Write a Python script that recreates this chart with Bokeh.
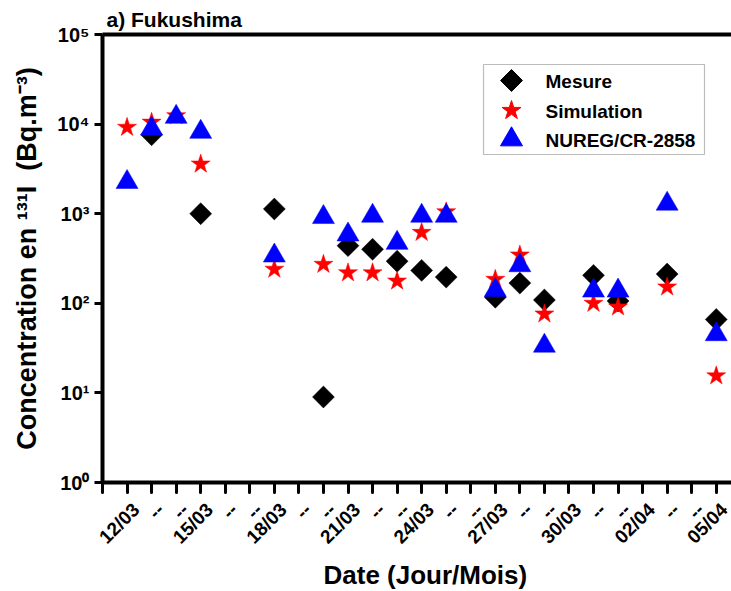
import math
from bokeh.plotting import figure
from bokeh.models import (Range1d, LinearAxis, FixedTicker, CustomJSTickFormatter,
                          Label, BoxAnnotation, ColumnDataSource, Title)
from bokeh.embed import file_html
from bokeh.resources import INLINE

# ---------------- data ----------------
days = ["12/03", "13/03", "14/03", "15/03", "16/03", "17/03", "18/03", "19/03",
        "20/03", "21/03", "22/03", "23/03", "24/03", "25/03", "26/03", "27/03",
        "28/03", "29/03", "30/03", "31/03", "01/04", "02/04", "03/04", "04/04", "05/04"]
tick_labels = ["12/03", "--", "--", "15/03", "--", "--", "18/03", "--", "--",
               "21/03", "--", "--", "24/03", "--", "--", "27/03", "--", "--",
               "30/03", "--", "--", "02/04", "--", "--", "05/04"]

mesure_dates = ["13/03", "15/03", "18/03", "20/03", "21/03", "22/03", "23/03", "24/03",
                "25/03", "27/03", "28/03", "29/03", "31/03", "01/04", "03/04", "05/04"]
mesure_vals = [7600, 1000, 1130, 9, 440, 401, 295, 233,
               196, 117, 168, 109, 205, 106, 212, 66]

sim_dates = ["12/03", "13/03", "14/03", "15/03", "18/03", "20/03", "21/03", "22/03", "23/03",
             "24/03", "25/03", "27/03", "28/03", "29/03", "31/03", "01/04", "03/04", "05/04"]
sim_vals = [9200, 10500, 12400, 3580, 240, 272, 219, 219, 177,
            618, 1050, 185, 346, 76, 100, 91, 152, 15.5]

nureg_dates = ["12/03", "13/03", "14/03", "15/03", "18/03", "20/03", "21/03", "22/03", "23/03",
               "24/03", "25/03", "27/03", "28/03", "29/03", "31/03", "01/04", "03/04", "05/04"]
nureg_vals = [2250, 8890, 12000, 8160, 340, 914, 584, 945, 471,
              945, 945, 140, 265, 33.5, 138, 138, 1288, 45]

series_names = ["Mesure", "Simulation", "NUREG/CR-2858"]
title_text = "a) Fukushima"
x_label = "Date (Jour/Mois)"
y_label = "Concentration en \u00b9\u00b3\u00b9I\u00a0\u00a0(Bq.m\u207b\u00b3)"

# ---------------- layout constants ----------------
FONT = "Liberation Sans"
FL, FT, FW, FH = 102, 34, 629, 448
X0, PX_PER_X = -1.0, 24.55
Y0_DEC, Y1_DEC = 0, 5
PX_PER_DEC = FH / (Y1_DEC - Y0_DEC)
FB = FT + FH
LABEL_SHIFT = 9 / PX_PER_X   # x tick labels sit slightly right of their ticks


def px_to_x(px):
    return X0 + (px - FL) / PX_PER_X


def py_to_y(py):
    return 10 ** (Y0_DEC + (FB - py) / PX_PER_DEC)


p = figure(frame_width=FW, frame_height=FH,
           x_range=Range1d(X0, X0 + FW / PX_PER_X),
           y_range=Range1d(10 ** Y0_DEC, 10 ** Y1_DEC),
           y_axis_type="log", output_backend="svg", toolbar_location=None,
           min_border_left=FL, min_border_right=0, min_border_top=FT,
           min_border_bottom=591 - FB)
p.grid.visible = False
p.outline_line_color = None
p.background_fill_color = "white"
p.border_fill_color = "white"

# title
p.title.text = title_text
p.title.align = "left"
p.title.offset = 4
p.title.text_font = FONT
p.title.text_font_style = "bold"
p.title.text_font_size = "21px"
p.title.text_color = "black"
p.title.standoff = 8

# x axis (line + ticks)
xa = p.xaxis[0]
xa.ticker = FixedTicker(ticks=list(range(-1, len(days))), minor_ticks=[])
xa.formatter = CustomJSTickFormatter(code="return '';")
xa.axis_line_width = 4
xa.major_tick_line_width = 3
xa.major_tick_line_cap = "round"
xa.major_tick_out = 10
xa.major_tick_in = 0
xa.major_label_text_font_size = "1px"
xa.major_label_standoff = 0

# x tick labels (separate axis, no line)
xl = LinearAxis(ticker=FixedTicker(ticks=[i + LABEL_SHIFT for i in range(len(days))],
                                   minor_ticks=[]),
                formatter=CustomJSTickFormatter(args=dict(labels=tick_labels, shift=LABEL_SHIFT),
                                                code="""
const i = Math.round(tick - shift);
return (i >= 0 && i < labels.length) ? labels[i] : "";
"""),
                axis_line_color=None, major_tick_line_color=None,
                major_tick_in=0, major_tick_out=0,
                major_label_orientation=math.pi / 4,
                major_label_text_font=FONT, major_label_text_font_style="bold",
                major_label_text_font_size="19px", major_label_text_color="black",
                major_label_standoff=14)
p.add_layout(xl, "below")

p.add_layout(Title(text=x_label, align="left", offset=221, text_font=FONT,
                   text_font_style="bold", text_font_size="26px", text_color="black",
                   standoff=0), "below")

# y axis
ya = p.yaxis[0]
ya.ticker = FixedTicker(ticks=[10 ** k for k in range(Y0_DEC, Y1_DEC + 1)], minor_ticks=[])
ya.formatter = CustomJSTickFormatter(code="""
const sup = {"0":"\u2070","1":"\u00b9","2":"\u00b2","3":"\u00b3","4":"\u2074",
             "5":"\u2075","6":"\u2076","7":"\u2077","8":"\u2078","9":"\u2079","-":"\u207b"};
const e = Math.round(Math.log10(tick));
return "10" + String(e).split("").map(c => sup[c]).join("");
""")
ya.axis_line_width = 4
ya.major_tick_line_width = 3
ya.major_tick_out = 8
ya.major_tick_in = 0
ya.major_label_text_font = FONT
ya.major_label_text_font_style = "bold"
ya.major_label_text_font_size = "20px"
ya.major_label_text_color = "black"
ya.major_label_standoff = 5
ya.axis_label = y_label
ya.axis_label_text_font = FONT
ya.axis_label_text_font_style = "bold"
ya.axis_label_text_font_size = "27px"
ya.axis_label_text_color = "black"
ya.axis_label_standoff = 12

# top axis line
top = LinearAxis(ticker=FixedTicker(ticks=[]), axis_line_width=4,
                 major_tick_out=0, major_tick_in=0, major_label_standoff=0,
                 major_label_text_font_size="0px")
p.add_layout(top, "above")

# ---------------- data marks ----------------
src_m = ColumnDataSource(dict(x=[days.index(d) for d in mesure_dates], y=mesure_vals))
src_s = ColumnDataSource(dict(x=[days.index(d) for d in sim_dates], y=sim_vals))
src_n = ColumnDataSource(dict(x=[days.index(d) for d in nureg_dates], y=nureg_vals))

p.scatter("x", "y", source=src_m, marker="square", size=15.5, angle=math.pi / 4,
          fill_color="black", line_color="black", line_width=0.5)
p.scatter("x", "y", source=src_s, marker="star", size=20,
          fill_color="#ff0000", line_color="#ff0000", line_width=0.5)
p.scatter("x", "y", source=src_n, marker="triangle", size=22,
          fill_color="#0000ff", line_color="#0000ff", line_width=0.5)

# ---------------- legend (manual) ----------------
LEG_L, LEG_R, LEG_T, LEG_B = 483, 704, 64, 154
leg_rows = [80, 110, 139]
leg_mark_x, leg_text_x = 511, 545
p.add_layout(BoxAnnotation(left=px_to_x(LEG_L), right=px_to_x(LEG_R),
                           top=py_to_y(LEG_T), bottom=py_to_y(LEG_B),
                           fill_alpha=0, line_color="#222222", line_width=1.2,
                           level="overlay"))
p.scatter([px_to_x(leg_mark_x)], [py_to_y(leg_rows[0])], marker="square", size=15.5,
          angle=math.pi / 4, fill_color="black", line_color="black")
p.scatter([px_to_x(leg_mark_x)], [py_to_y(leg_rows[1])], marker="star", size=20,
          fill_color="#ff0000", line_color="#ff0000")
p.scatter([px_to_x(leg_mark_x)], [py_to_y(leg_rows[2])], marker="triangle", size=22,
          fill_color="#0000ff", line_color="#0000ff")
for name, row in zip(series_names, leg_rows):
    p.add_layout(Label(x=px_to_x(leg_text_x), y=py_to_y(row + 1), text=name,
                       text_font=FONT, text_font_style="bold", text_font_size="19px",
                       text_baseline="middle", text_align="left", text_color="black"))

open("out.html", "w").write(file_html(p, INLINE))
